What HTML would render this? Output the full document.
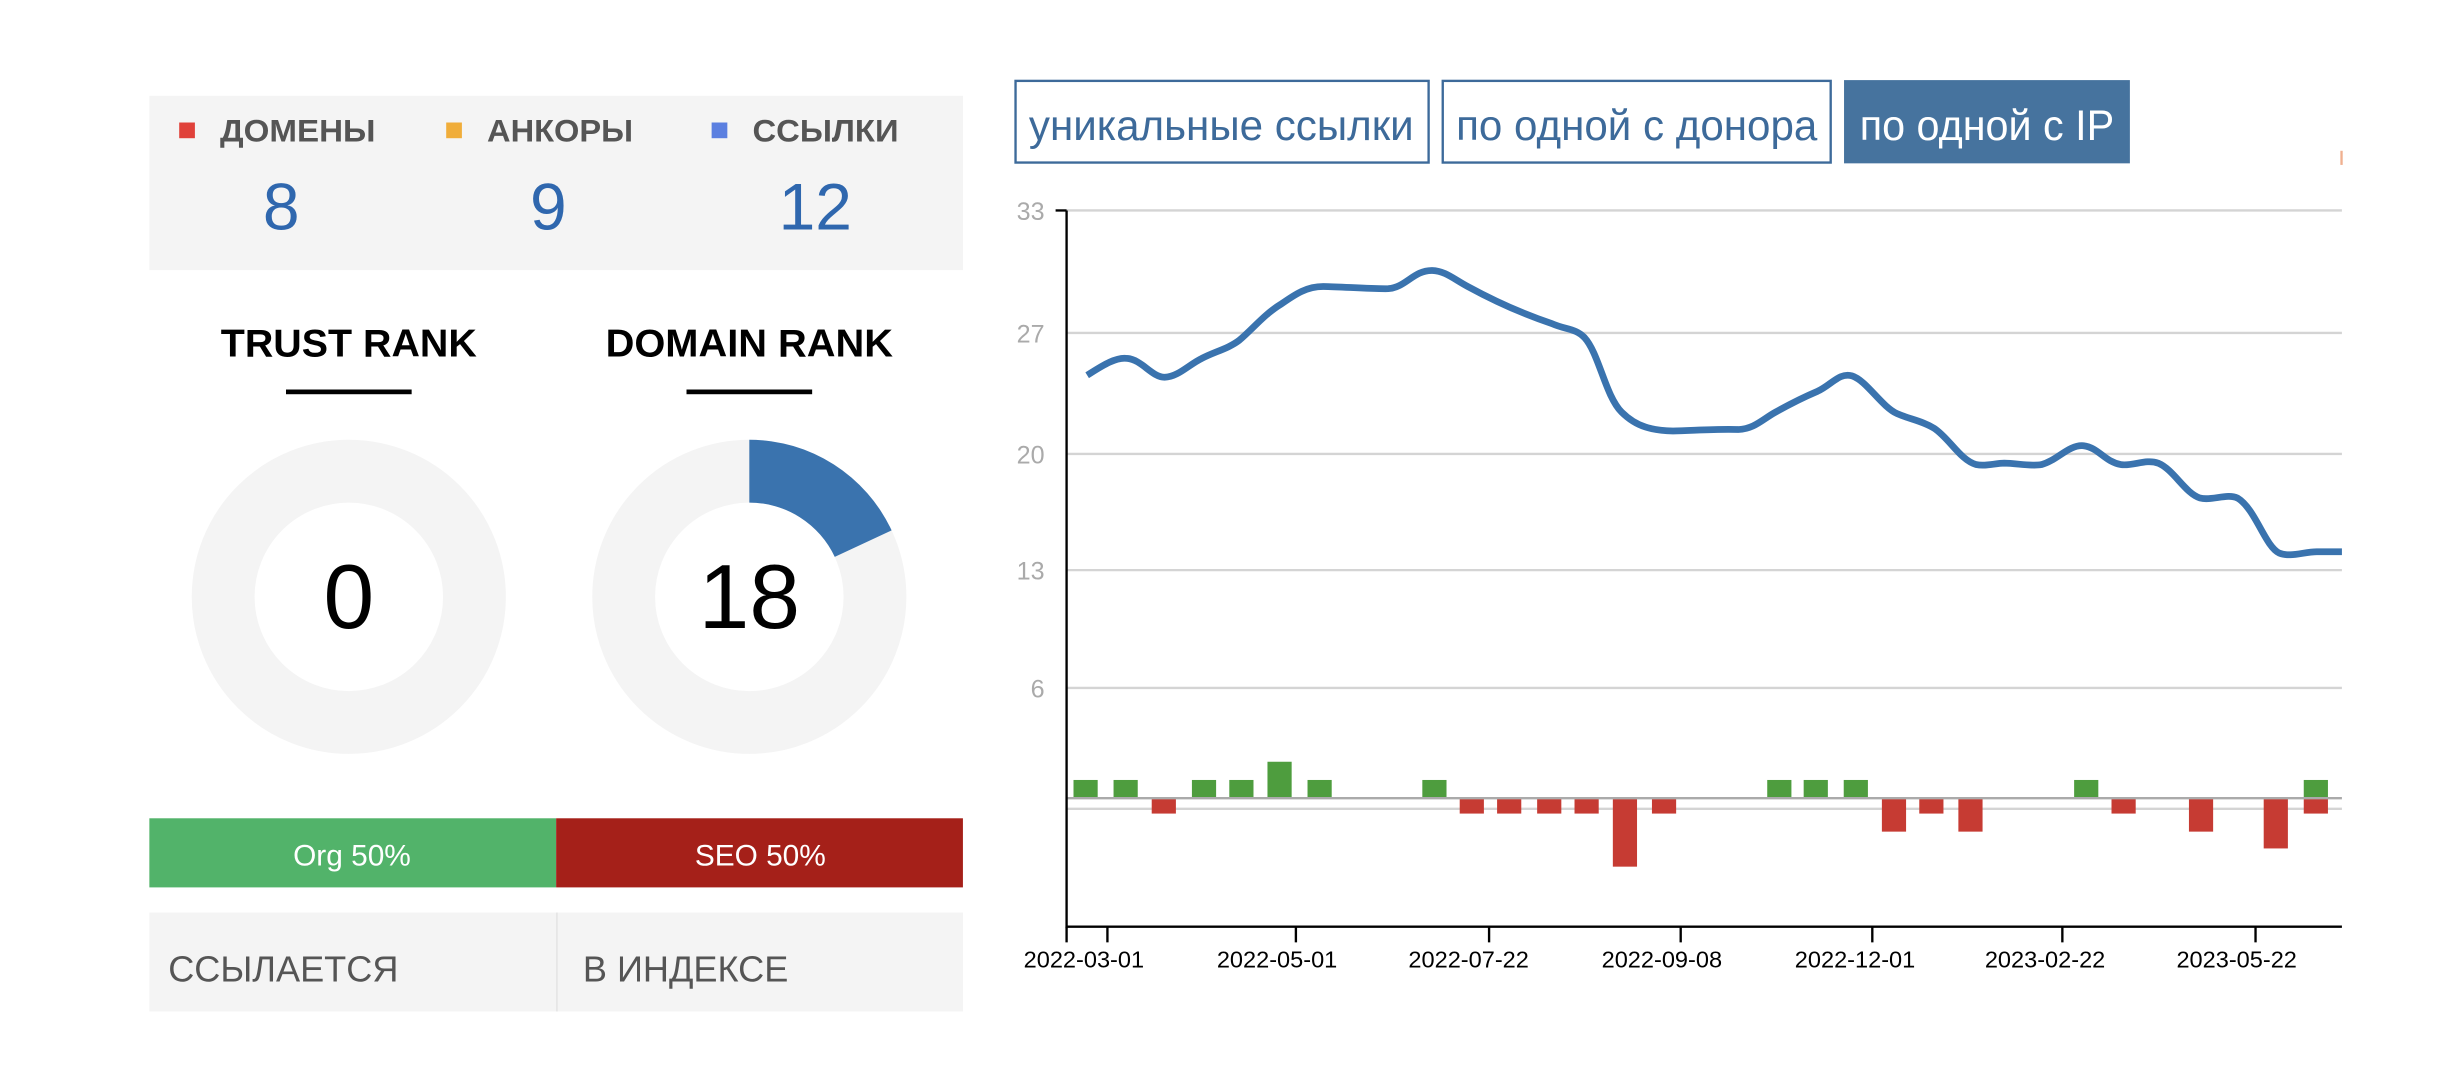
<!DOCTYPE html>
<html><head><meta charset="utf-8"><style>html,body{margin:0;padding:0;background:#fff}svg{display:block}</style></head>
<body>
<svg width="2463" height="1090" viewBox="0 0 1568 694" xmlns="http://www.w3.org/2000/svg" font-family="Liberation Sans, sans-serif">
<rect x="0" y="0" width="1568" height="694" fill="#fff"/>
<rect x="95" y="61" width="518" height="111" fill="#f4f4f4"/>
<rect x="114" y="78" width="10" height="10" fill="#e0413a"/>
<rect x="284" y="78" width="10" height="10" fill="#f0ad3a"/>
<rect x="453" y="78" width="10" height="10" fill="#5b7fe0"/>
<g font-weight="bold" font-size="20" fill="#555">
<text x="140" y="90" textLength="99" lengthAdjust="spacingAndGlyphs">ДОМЕНЫ</text><text x="310" y="90" textLength="93" lengthAdjust="spacingAndGlyphs">АНКОРЫ</text><text x="479" y="90" textLength="93" lengthAdjust="spacingAndGlyphs">ССЫЛКИ</text></g>
<g font-size="42" fill="#2f67ae" text-anchor="middle">
<text x="179" y="146">8</text><text x="349" y="146">9</text><text x="519" y="146">12</text></g>
<g font-weight="bold" font-size="25" fill="#000" text-anchor="middle">
<text x="222" y="227" textLength="163" lengthAdjust="spacingAndGlyphs">TRUST RANK</text><text x="477" y="227" textLength="183" lengthAdjust="spacingAndGlyphs">DOMAIN RANK</text></g>
<rect x="182" y="248" width="80" height="3" fill="#000"/>
<rect x="437" y="248" width="80" height="3" fill="#000"/>
<circle cx="222" cy="380" r="80" fill="none" stroke="#f4f4f4" stroke-width="40"/>
<circle cx="477" cy="380" r="80" fill="none" stroke="#f4f4f4" stroke-width="40"/>
<path d="M477 280 A100 100 0 0 1 567.6 337.7 L531.4 354.6 A60 60 0 0 0 477 320 Z" fill="#3a73ae"/>
<g font-size="58" fill="#000" text-anchor="middle">
<text x="222" y="400">0</text><text x="477" y="400">18</text></g>
<rect x="95" y="521" width="259" height="44" fill="#52b36a"/>
<rect x="354" y="521" width="259" height="44" fill="#a52019"/>
<g font-size="19" fill="#fff" text-anchor="middle"><text x="224" y="551">Org 50%</text><text x="484" y="551">SEO 50%</text></g>
<rect x="95" y="581" width="518" height="63" fill="#f4f4f4"/>
<rect x="354" y="581" width="1" height="63" fill="#e4e4e4"/>
<g font-size="23" fill="#555"><text x="107" y="625">ССЫЛАЕТСЯ</text><text x="371" y="625">В ИНДЕКСЕ</text></g>
<rect x="646.5" y="51.5" width="263" height="52" fill="#fff" stroke="#3d6a9a" stroke-width="1.5"/>
<rect x="918.5" y="51.5" width="247" height="52" fill="#fff" stroke="#3d6a9a" stroke-width="1.5"/>
<rect x="1174" y="51" width="182" height="53" fill="#46739e"/>
<g font-size="27">
<text x="655" y="89" fill="#3d6a9a" textLength="245" lengthAdjust="spacingAndGlyphs">уникальные ссылки</text>
<text x="927" y="89" fill="#3d6a9a" textLength="230" lengthAdjust="spacingAndGlyphs">по одной с донора</text>
<text x="1184" y="89" fill="#fff" textLength="162" lengthAdjust="spacingAndGlyphs">по одной с IP</text></g>
<rect x="1490" y="96" width="1.5" height="9" fill="#f0b090"/>
<g stroke="#d4d4d4" stroke-width="1.5">
<line x1="679" y1="134" x2="1491" y2="134"/><line x1="679" y1="212" x2="1491" y2="212"/>
<line x1="679" y1="289" x2="1491" y2="289"/><line x1="679" y1="363" x2="1491" y2="363"/>
<line x1="679" y1="438" x2="1491" y2="438"/><line x1="679" y1="515" x2="1491" y2="515"/></g>
<g font-size="16" fill="#aaa" text-anchor="end">
<text x="665" y="140">33</text><text x="665" y="218">27</text><text x="665" y="295">20</text><text x="665" y="369">13</text><text x="665" y="444">6</text></g>
<g fill="#4e9d3e">
<rect x="683.4" y="496.6" width="15.4" height="11.6"/><rect x="708.9" y="496.6" width="15.4" height="11.6"/>
<rect x="758.8" y="496.6" width="15.4" height="11.6"/><rect x="782.6" y="496.6" width="15.4" height="11.6"/>
<rect x="806.9" y="485" width="15.4" height="23.2"/><rect x="832.4" y="496.6" width="15.4" height="11.6"/>
<rect x="905.5" y="496.6" width="15.4" height="11.6"/>
<rect x="1125.1" y="496.6" width="15.4" height="11.6"/><rect x="1148.3" y="496.6" width="15.4" height="11.6"/>
<rect x="1173.8" y="496.6" width="15.4" height="11.6"/><rect x="1320.5" y="496.6" width="15.4" height="11.6"/>
<rect x="1466.7" y="496.6" width="15.4" height="11.6"/></g>
<g fill="#c63b33">
<rect x="733.2" y="508.2" width="15.4" height="9.8"/>
<rect x="929.3" y="508.2" width="15.4" height="9.8"/><rect x="953.1" y="508.2" width="15.4" height="9.8"/>
<rect x="978.6" y="508.2" width="15.4" height="9.8"/><rect x="1002.4" y="508.2" width="15.4" height="9.8"/>
<rect x="1026.8" y="508.2" width="15.4" height="43.6"/><rect x="1051.7" y="508.2" width="15.4" height="9.8"/>
<rect x="1198.1" y="508.2" width="15.4" height="21.3"/><rect x="1221.9" y="508.2" width="15.4" height="9.8"/>
<rect x="1246.8" y="508.2" width="15.4" height="21.3"/><rect x="1344.3" y="508.2" width="15.4" height="9.8"/>
<rect x="1393.6" y="508.2" width="15.4" height="21.3"/><rect x="1441.2" y="508.2" width="15.4" height="32"/>
<rect x="1466.7" y="508.2" width="15.4" height="9.8"/></g>
<line x1="679" y1="508.2" x2="1491" y2="508.2" stroke="#aaa" stroke-width="1.5"/>
<path fill="none" stroke="#3a73ae" stroke-width="4.3" stroke-linejoin="round" stroke-linecap="butt"
d="M692.1 238.9 C700 234 710 227 717.6 228.2 C727 229 733 240 741.4 240.2 C750 240 757 232 765.1 228.2 C773 224 782 222 788.9 216.7 C798 209 805 200 815.6 193.6 C825 187 832 182.4 842.4 182.4 C855 182.6 872 184 883.9 183.8 C895 183 900 172 911.8 172.2 C920 172.4 926 178 934.4 182.4 C952 192 970 200 987.9 206 C997 210 1003 209 1008.7 214.9 C1018 225 1022 252 1032.4 262.4 C1042 272 1052 274 1065.1 274.4 C1080 274 1095 273 1106.7 273.5 C1117 273 1122 267 1130.4 262.4 C1140 257 1148 253 1157.2 249.1 C1166 245 1171 237 1179.1 239.3 C1188 242 1198 259 1207.7 263.3 C1216 267 1224 268 1231.4 272.7 C1241 279 1248 293 1258.2 295.8 C1264 297 1270 295 1276 294.9 C1284 295 1293 297 1299.7 295.8 C1310 293 1317 283 1326.5 283.8 C1336 285 1340 294 1350.2 295.8 C1358 297 1366 292 1374 294.9 C1384 299 1391 314 1400.7 317.1 C1408 319 1418 314 1424.5 317.1 C1436 324 1442 348 1451.2 352.2 C1458 355 1467 351.3 1475 351.3 L1491 351.3"/>
<line x1="679" y1="134" x2="679" y2="591" stroke="#000" stroke-width="1.5"/>
<line x1="672" y1="134" x2="679" y2="134" stroke="#000" stroke-width="1.5"/>
<line x1="679" y1="590" x2="1491" y2="590" stroke="#000" stroke-width="1.5"/>
<g stroke="#000" stroke-width="1.5">
<line x1="705" y1="590" x2="705" y2="600"/><line x1="825" y1="590" x2="825" y2="600"/>
<line x1="948" y1="590" x2="948" y2="600"/><line x1="1070" y1="590" x2="1070" y2="600"/>
<line x1="1192" y1="590" x2="1192" y2="600"/><line x1="1313" y1="590" x2="1313" y2="600"/>
<line x1="1436" y1="590" x2="1436" y2="600"/><line x1="679" y1="590" x2="679" y2="600"/></g>
<g font-size="15" fill="#000" text-anchor="middle">
<text x="690" y="616">2022-03-01</text><text x="813" y="616">2022-05-01</text>
<text x="935" y="616">2022-07-22</text><text x="1058" y="616">2022-09-08</text>
<text x="1181" y="616">2022-12-01</text><text x="1302" y="616">2023-02-22</text>
<text x="1424" y="616">2023-05-22</text></g>
</svg>
</body></html>
